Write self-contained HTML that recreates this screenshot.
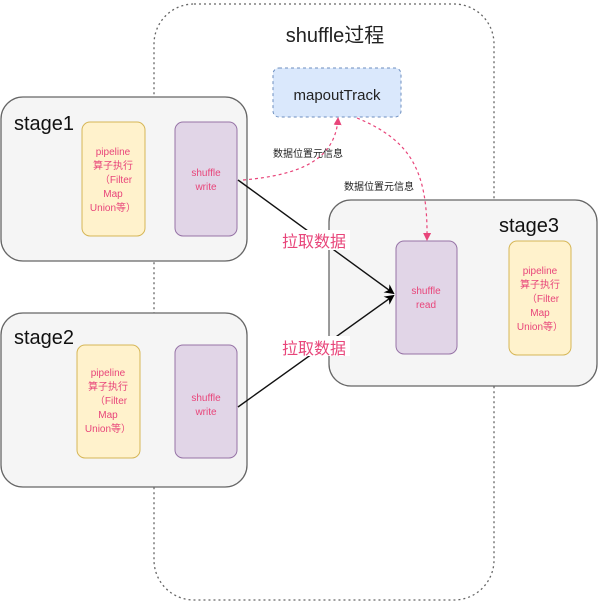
<!DOCTYPE html>
<html><head><meta charset="utf-8"><style>
body{margin:0;background:#fff;width:601px;height:607px;overflow:hidden;font-family:"Liberation Sans","Noto Sans CJK SC",sans-serif}
</style></head><body>
<svg width="601" height="607" viewBox="0 0 601 607" xmlns="http://www.w3.org/2000/svg" font-family="Liberation Sans, Noto Sans CJK SC, sans-serif">
<defs>
<marker id="ab" markerWidth="10" markerHeight="10" refX="8" refY="5" orient="auto" markerUnits="userSpaceOnUse"><path d="M0,0 L10,5 L0,10 L3,5 z" fill="#000"/></marker>
<marker id="ap" markerWidth="8" markerHeight="8" refX="6" refY="4" orient="auto" markerUnits="userSpaceOnUse"><path d="M0,0 L8,4 L0,8 z" fill="#e8457a"/></marker>
</defs>
<rect x="154" y="4" width="340" height="596" rx="40" fill="none" stroke="#666" stroke-width="1.3" stroke-dasharray="2,3"/>
<text x="335" y="42" font-size="20" text-anchor="middle" fill="#222">shuffle过程</text>
<rect x="273" y="68" width="128" height="49" rx="6" fill="#dae8fc" stroke="#6c8ebf" stroke-dasharray="3,3"/>
<text x="337" y="100" font-size="15" text-anchor="middle" fill="#222">mapoutTrack</text>
<!-- stage1 -->
<rect x="1" y="97" width="246" height="164" rx="22" fill="#f5f5f5" stroke="#666" stroke-width="1.3"/>
<text x="14" y="130" font-size="20" fill="#111">stage1</text>
<rect x="82" y="122" width="63" height="114" rx="8" fill="#fff2cc" stroke="#d6b656"/>
<g font-size="10" fill="#e8457a" text-anchor="middle"><text x="113" y="155">pipeline</text><text x="113" y="169">算子执行</text><text x="116" y="183">（Filter</text><text x="113" y="197">Map</text><text x="113" y="211">Union等）</text></g>
<rect x="175" y="122" width="62" height="114" rx="8" fill="#e1d5e7" stroke="#9673a6"/>
<g font-size="10" fill="#e8457a" text-anchor="middle"><text x="206" y="176">shuffle</text><text x="206" y="190">write</text></g>
<!-- stage2 -->
<rect x="1" y="313" width="246" height="174" rx="22" fill="#f5f5f5" stroke="#666" stroke-width="1.3"/>
<text x="14" y="344" font-size="20" fill="#111">stage2</text>
<rect x="77" y="345" width="63" height="113" rx="8" fill="#fff2cc" stroke="#d6b656"/>
<g font-size="10" fill="#e8457a" text-anchor="middle"><text x="108" y="376">pipeline</text><text x="108" y="390">算子执行</text><text x="111" y="404">（Filter</text><text x="108" y="418">Map</text><text x="108" y="432">Union等）</text></g>
<rect x="175" y="345" width="62" height="113" rx="8" fill="#e1d5e7" stroke="#9673a6"/>
<g font-size="10" fill="#e8457a" text-anchor="middle"><text x="206" y="401">shuffle</text><text x="206" y="415">write</text></g>
<!-- stage3 -->
<rect x="329" y="200" width="268" height="186" rx="22" fill="#f5f5f5" stroke="#666" stroke-width="1.3"/>
<text x="499" y="232" font-size="20" fill="#111">stage3</text>
<rect x="396" y="241" width="61" height="113" rx="8" fill="#e1d5e7" stroke="#9673a6"/>
<g font-size="10" fill="#e8457a" text-anchor="middle"><text x="426" y="294">shuffle</text><text x="426" y="308">read</text></g>
<rect x="509" y="241" width="62" height="114" rx="8" fill="#fff2cc" stroke="#d6b656"/>
<g font-size="10" fill="#e8457a" text-anchor="middle"><text x="540" y="274">pipeline</text><text x="540" y="288">算子执行</text><text x="543" y="302">（Filter</text><text x="540" y="316">Map</text><text x="540" y="330">Union等）</text></g>
<!-- arrows -->
<line x1="238" y1="180" x2="393" y2="293" stroke="#111" stroke-width="1.4" marker-end="url(#ab)"/>
<line x1="238" y1="407" x2="393" y2="296" stroke="#111" stroke-width="1.4" marker-end="url(#ab)"/>
<rect x="280" y="230" width="70" height="20" fill="#fff"/>
<rect x="280" y="336" width="70" height="20" fill="#fff"/>
<text x="314" y="247" font-size="16" fill="#e8457a" text-anchor="middle">拉取数据</text>
<text x="314" y="354" font-size="16" fill="#e8457a" text-anchor="middle">拉取数据</text>
<path d="M243,180 C300,175 335,160 338,119" fill="none" stroke="#e8457a" stroke-dasharray="3,3" stroke-width="1.2" marker-end="url(#ap)"/>
<path d="M357,118 C410,140 428,170 427,239" fill="none" stroke="#e8457a" stroke-dasharray="3,3" stroke-width="1.2" marker-end="url(#ap)"/>
<text x="273" y="157" font-size="10" fill="#222">数据位置元信息</text>
<text x="344" y="190" font-size="10" fill="#222">数据位置元信息</text>
</svg>
</body></html>
